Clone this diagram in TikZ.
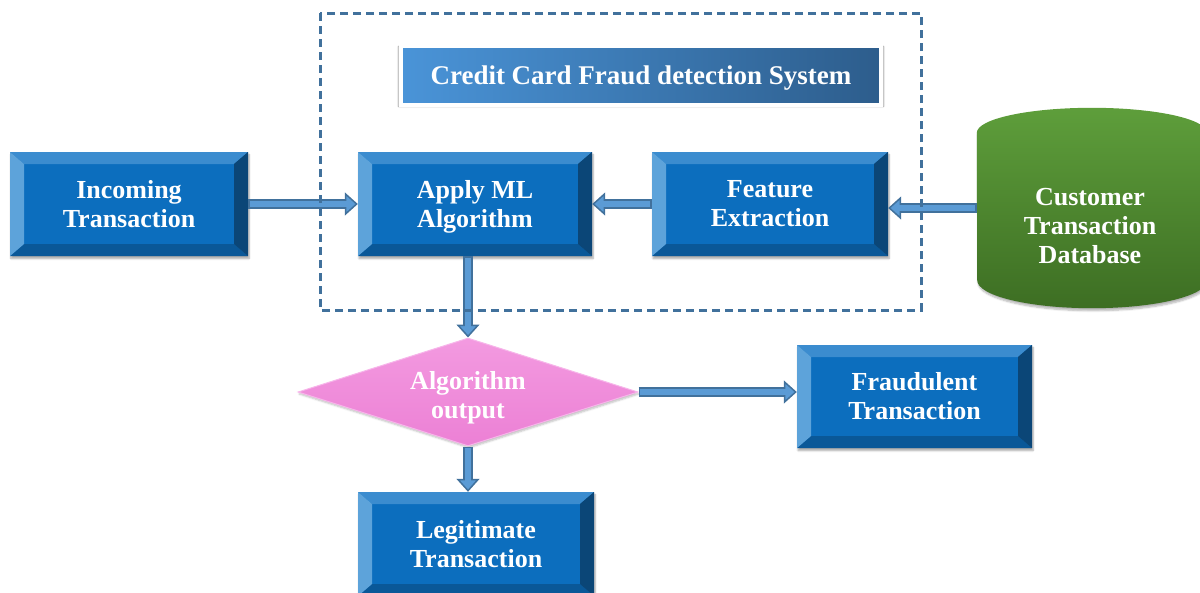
\documentclass[tikz,border=0pt]{standalone}
\usepackage{fontspec}
\setmainfont{Liberation Serif}
\usetikzlibrary{arrows.meta,shapes.geometric,shadows.blur}

\definecolor{faceblue}{HTML}{0C6EBE}
\definecolor{bevtop}{HTML}{3B8CCF}
\definecolor{bevleft}{HTML}{5DA3DA}
\definecolor{bevright}{HTML}{0B4677}
\definecolor{bevbottom}{HTML}{0A5898}
\definecolor{arrowdark}{HTML}{41719C}
\definecolor{arrowlight}{HTML}{5B9BD5}
\definecolor{framecol}{HTML}{41719C}
\definecolor{titleleft}{HTML}{4A94D8}
\definecolor{titleright}{HTML}{2D5D8C}
\definecolor{pinktop}{HTML}{F39AE0}
\definecolor{pinkbottom}{HTML}{EC80D5}
\definecolor{pinkedge}{HTML}{F7B5EA}
\definecolor{greentop}{HTML}{5E9E3B}
\definecolor{greenbottom}{HTML}{3D6E23}

\newcommand\boxfont{\bfseries\fontsize{26}{29}\selectfont}
\newcommand\titlefont{\bfseries\fontsize{27}{30}\selectfont}
\newcommand\flowarrow[2]{%
  \draw[arrowouter] #1 -- #2;
  \draw[arrowinner] #1 -- #2;}

\tikzset{
  boxtext/.style={text=white, font=\boxfont, align=center, inner sep=0pt},
  bevelbox/.style={rectangle, boxtext, minimum width=236pt, minimum height=104pt,
    fill=faceblue,
    blur shadow={shadow xshift=1pt, shadow yshift=-2.5pt, shadow blur steps=6, shadow opacity=35},
    path picture={
      \path (path picture bounding box.north west) coordinate (bNW);
      \path (path picture bounding box.south east) coordinate (bSE);
      \path (bNW -| bSE) coordinate (bNE);
      \path (bNW |- bSE) coordinate (bSW);
      \fill[bevtop] (bNW) -- (bNE) -- ([xshift=-14pt,yshift=-12pt]bNE)
        -- ([xshift=14pt,yshift=-12pt]bNW) -- cycle;
      \fill[bevbottom] (bSW) -- (bSE) -- ([xshift=-14pt,yshift=12pt]bSE)
        -- ([xshift=14pt,yshift=12pt]bSW) -- cycle;
      \fill[bevleft] (bNW) -- (bSW) -- ([xshift=14pt,yshift=12pt]bSW)
        -- ([xshift=14pt,yshift=-12pt]bNW) -- cycle;
      \fill[bevright] (bNE) -- (bSE) -- ([xshift=-14pt,yshift=12pt]bSE)
        -- ([xshift=-14pt,yshift=-12pt]bNE) -- cycle;
    }},
  decision/.style={diamond, aspect=3.14, inner sep=0pt, minimum width=340pt, minimum height=108pt,
    top color=pinktop, bottom color=pinkbottom, draw=pinkedge, line width=1pt,
    blur shadow={shadow xshift=1pt, shadow yshift=-2pt, shadow blur steps=5, shadow opacity=25}},
  titlebox/.style={rectangle, boxtext, font=\titlefont, minimum width=480pt, minimum height=59pt,
    left color=titleleft, right color=titleright, draw=white, line width=4pt,
    blur shadow={shadow xshift=0pt, shadow yshift=-1pt, shadow scale=1.01, shadow blur steps=6, shadow opacity=40}},
  dbshape/.style={top color=greentop, bottom color=greenbottom,
    blur shadow={shadow xshift=1pt, shadow yshift=-2.5pt, shadow blur steps=6, shadow opacity=30}},
  arrowouter/.style={draw=arrowdark, line width=10pt,
    -{Triangle[length=13pt, width=23pt, line width=1.5pt, fill=arrowlight]}},
  arrowinner/.style={draw=arrowlight, line width=6.5pt, shorten >=11pt, shorten <=1.5pt},
  groupframe/.style={draw=framecol, line width=3pt, dash pattern=on 8pt off 5pt},
}

\begin{document}
\begin{tikzpicture}[x=1pt, y=-1pt]
  \useasboundingbox (0,0) rectangle (1200,592);
  \clip (0,0) rectangle (1200,592);

  % title banner
  \node[titlebox] (title) at (641,75.5) {Credit Card Fraud detection S\smash{y}stem};

  % process boxes
  \node[bevelbox, minimum width=238pt] (inc) at (129,204) {Incoming\\Transaction};
  \node[bevelbox, minimum width=234pt] (ml) at (475,204) {Apply ML\\Al\smash{g}orithm};
  \node[bevelbox] (fe) at (770,204) {Feature\\Extraction};
  \node[bevelbox, minimum width=235pt, minimum height=103pt] (fr) at (914.5,396.5) {Fraudulent\\Transaction};
  \node[bevelbox] (leg) at (476,544) {Legitimate\\Transaction};

  % decision
  \node[decision] (dec) at (468,392) {};
  \node[boxtext] (dectext) at (468,395) {Algorithm\\out\smash{p}ut};

  % database cylinder
  \node[minimum width=230pt, minimum height=200pt, inner sep=0pt] (db) at (1092,208) {};
  \path[dbshape] ([yshift=-25pt]db.north west)
      arc[start angle=180, end angle=0, x radius=115pt, y radius=25pt]
      -- ([yshift=28pt]db.south east)
      arc[start angle=0, end angle=-180, x radius=115pt, y radius=28pt] -- cycle;
  \node[boxtext] (dbtext) at (1090,226) {Customer\\Transaction\\Database};

  % connectors
  \flowarrow{(inc.east)}{(ml.west)}
  \flowarrow{(fe.west)}{(ml.east)}
  \flowarrow{(db.west)}{(db.west -| fe.east)}
  \flowarrow{(dec.north |- ml.south)}{(dec.north)}
  \flowarrow{(dec.east)}{(dec.east -| fr.west)}
  \flowarrow{(dec.south)}{(dec.south |- leg.north)}

  % system boundary
  \draw[groupframe] (320,13) rectangle (921,310);
\end{tikzpicture}
\end{document}
